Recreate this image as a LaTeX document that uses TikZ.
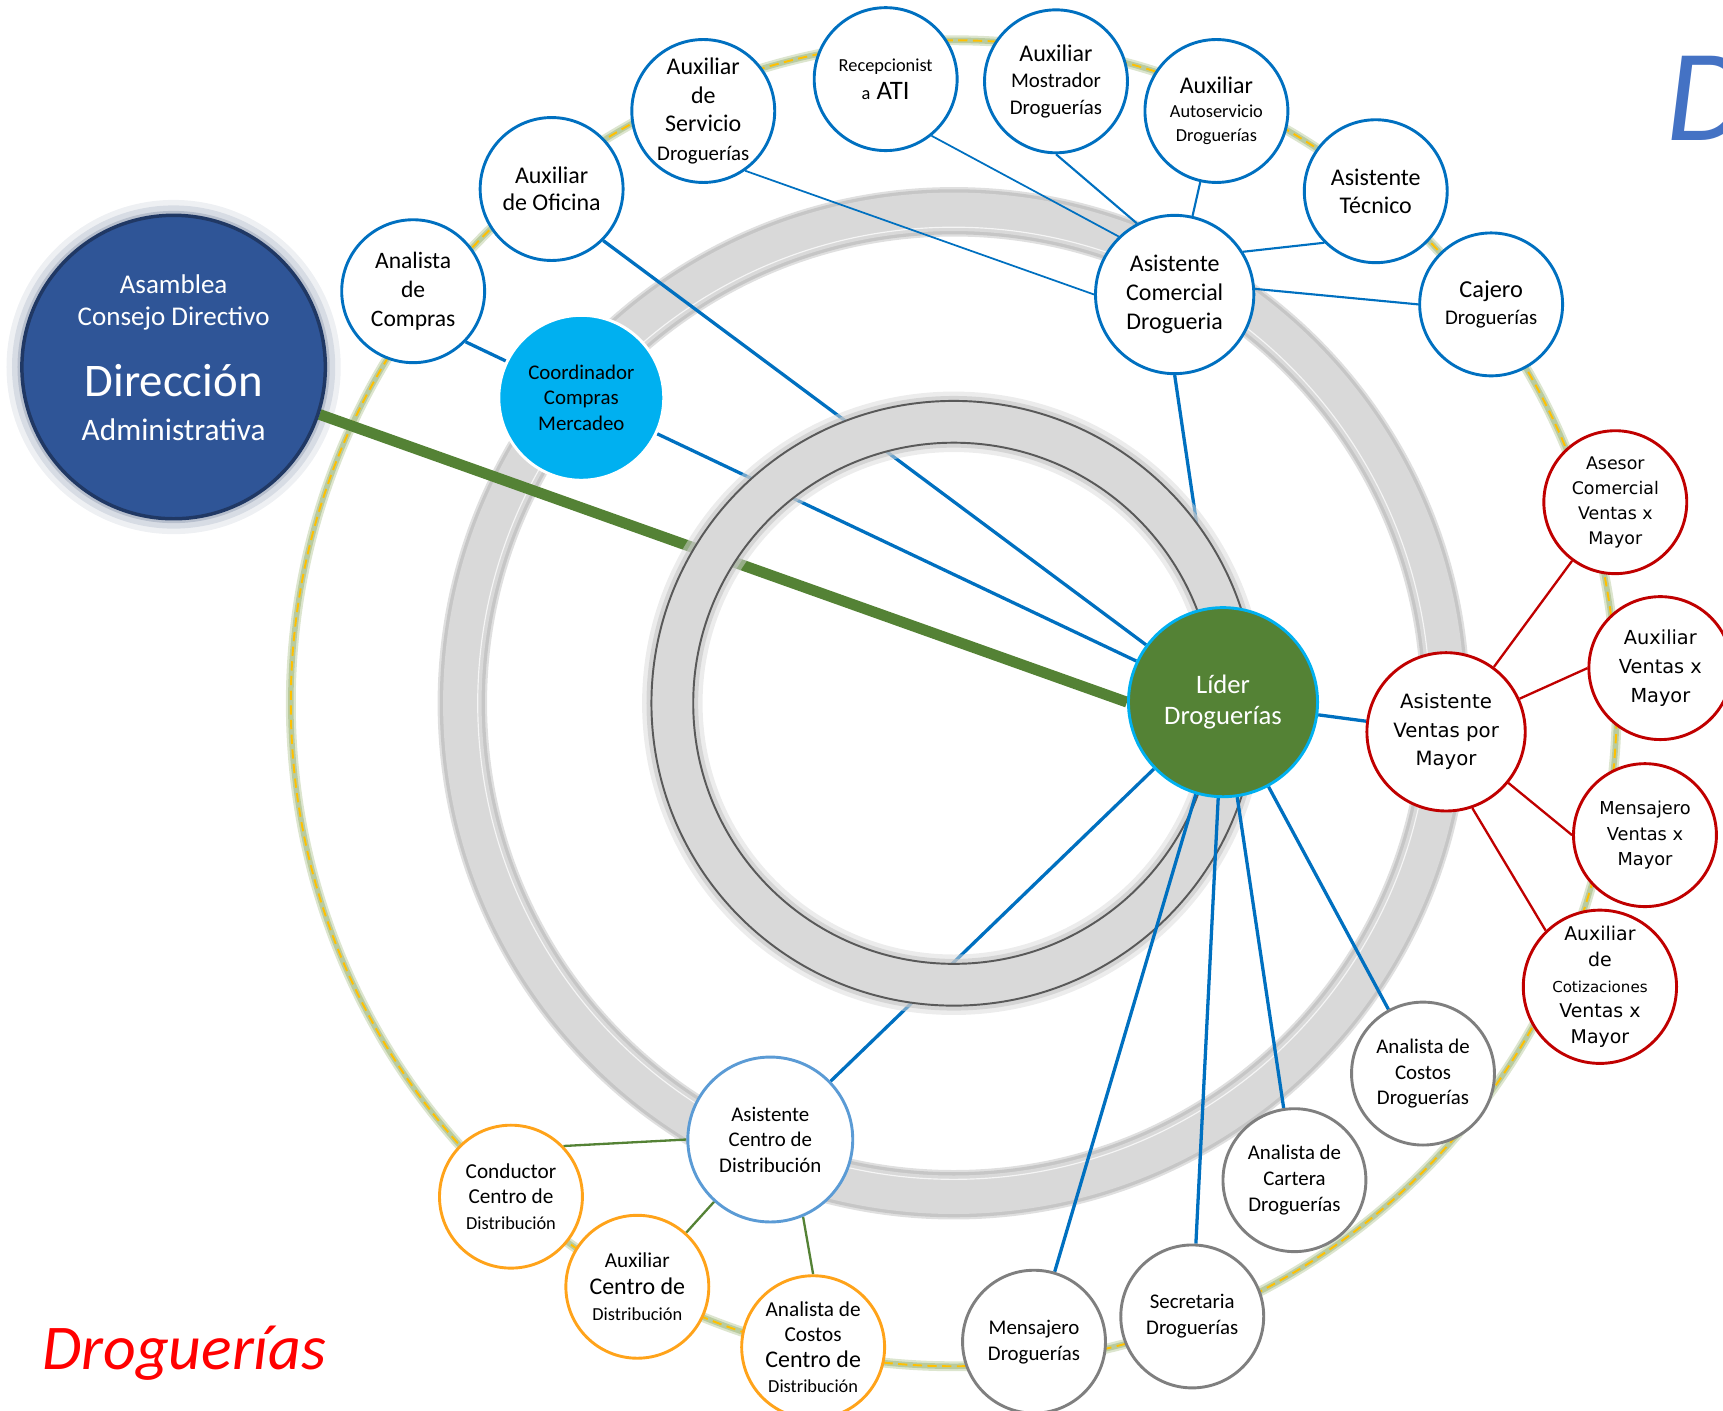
\documentclass[tikz,border=0pt]{standalone}
\usepackage{fontspec}
\setmainfont{Carlito}
\newfontfamily\verdfont{DejaVu Sans}
\usetikzlibrary{positioning}

\definecolor{azul}{HTML}{0070C0}
\definecolor{rojo}{HTML}{C00000}
\definecolor{gris}{HTML}{7F7F7F}
\definecolor{naranja}{HTML}{FFA31A}
\definecolor{verde}{HTML}{548235}
\definecolor{celeste}{HTML}{00B0F0}
\definecolor{azulclaro}{HTML}{5B9BD5}
\definecolor{azuloscuro}{HTML}{2F5597}
\definecolor{marino}{HTML}{203864}
\definecolor{anillo}{HTML}{D9D9D9}
\definecolor{borde}{HTML}{595959}
\definecolor{oliva}{HTML}{B9CB9E}
\definecolor{amarillo}{HTML}{FFC000}
\definecolor{letraD}{HTML}{4472C4}

\newcommand{\tamchico}{\fontsize{5.4}{6.6}\selectfont}
\newcommand{\tammini}{\fontsize{4.75}{6}\selectfont}

\pgfdeclarelayer{fondo}
\pgfdeclarelayer{medio}
\pgfsetlayers{fondo,medio,main}

\tikzset{
  puesto/.style={circle, fill=white, line width=0.75pt, minimum size=1.3cm, inner sep=0pt, align=center},
  azulnodo/.style={puesto, draw=azul, font=\fontsize{6.2}{7.4}\selectfont},
  rojonodo/.style={puesto, draw=rojo, font=\verdfont\fontsize{4.8}{6.6}\selectfont},
  grisnodo/.style={puesto, draw=gris, font=\fontsize{5.4}{6.7}\selectfont},
  naranjanodo/.style={puesto, draw=naranja, font=\fontsize{5.5}{6.6}\selectfont},
  linea/.style={azul, line width=0.85pt},
  lineafina/.style={azul, line width=0.55pt},
  linearoja/.style={rojo, line width=0.6pt},
  lineaverde/.style={verde, line width=0.6pt}
}

\begin{document}
\begin{tikzpicture}[x=0.01cm, y=-0.01cm]
\useasboundingbox (0,0) rectangle (1568,1284);

\node[puesto, fill=azuloscuro, draw=marino, line width=0.9pt, minimum size=2.76cm] (dir) at (158,334) {};
\node[anchor=base, text=white, font=\fontsize{7}{8}\selectfont] at ([yshift=0.67cm]dir.center) {Asamblea};
\node[anchor=base, text=white, font=\fontsize{7}{8}\selectfont] at ([yshift=0.375cm]dir.center) {Consejo Directivo};
\node[anchor=base, text=white, font=\fontsize{12.1}{14}\selectfont] at ([yshift=-0.265cm]dir.center) {Dirección};
\node[anchor=base, text=white, font=\fontsize{8.1}{9}\selectfont] at ([yshift=-0.665cm]dir.center) {Administrativa};

\node[azulnodo, font=\fontsize{6.1}{7.5}\selectfont] (analista) at (376,265) {Analista\\de\\Compras};
\node[azulnodo, font=\fontsize{6.2}{7.1}\selectfont] (oficina) at (502,172) {Auxiliar\\de Oficina};
\node[azulnodo] (servicio) at (640,101) {Auxiliar\\de\\Servicio\\{\tamchico Droguerías}};
\node[azulnodo, font=\fontsize{6.9}{7.1}\selectfont] (recep) at (806,72) {{\tammini Recepcionist}\\{\tammini a} ATI};
\node[azulnodo, font=\fontsize{6.2}{6.8}\selectfont] (mostrador) at (961,74) {Auxiliar\\{\tamchico Mostrador}\\{\tamchico Droguerías}};
\node[azulnodo, font=\fontsize{6.2}{6.2}\selectfont] (autoserv) at (1107,101) {Auxiliar\\{\tammini Autoservicio}\\{\tammini Droguerías}};
\node[azulnodo] (tecnico) at (1252,174) {Asistente\\Técnico};
\node[azulnodo, font=\fontsize{6.3}{6.8}\selectfont] (cajero) at (1357,277) {Cajero\\{\tamchico Droguerías}};
\node[azulnodo, minimum size=1.44cm, font=\fontsize{6.2}{7.5}\selectfont] (comercial) at (1069,268) {Asistente\\Comercial\\Drogueria};
\node[puesto, fill=celeste, draw=white, minimum size=1.5cm, font=\fontsize{5.4}{6.7}\selectfont] (coord) at (529,362) {Coordinador\\Compras\\Mercadeo};
\node[puesto, fill=verde, draw=celeste, minimum size=1.72cm, text=white, font=\fontsize{6.9}{8.2}\selectfont] (lider) at (1113,639) {Líder\\Droguerías};

\node[rojonodo, minimum size=1.44cm, font=\verdfont\fontsize{5.1}{7.4}\selectfont] (ventas) at (1316,666) {Asistente\\Ventas por\\Mayor};
\node[rojonodo, font=\verdfont\fontsize{4.5}{6.5}\selectfont] (asesor) at (1470,457) {Asesor\\Comercial\\Ventas x\\Mayor};
\node[rojonodo, font=\verdfont\fontsize{5}{7.4}\selectfont] (auxventas) at (1511,608) {Auxiliar\\Ventas x\\Mayor};
\node[rojonodo, font=\verdfont\fontsize{4.6}{6.6}\selectfont] (mensventas) at (1497,760) {Mensajero\\Ventas x\\Mayor};
\node[rojonodo, font=\verdfont\fontsize{4.9}{6.6}\selectfont] (cotiz) at (1456,898) {Auxiliar\\de\\{\fontsize{3.9}{5}\selectfont Cotizaciones}\\Ventas x\\Mayor};

\node[grisnodo] (costos) at (1295,977) {Analista de\\Costos\\Droguerías};
\node[grisnodo] (cartera) at (1178,1074) {Analista de\\Cartera\\Droguerías};
\node[grisnodo] (secre) at (1085,1198) {Secretaria\\Droguerías};
\node[grisnodo] (mensajero) at (941,1221) {Mensajero\\Droguerías};

\node[puesto, draw=azulclaro, minimum size=1.5cm, font=\fontsize{5.4}{6.6}\selectfont] (centro) at (701,1037) {Asistente\\Centro de\\Distribución};
\node[naranjanodo] (conductor) at (465,1089) {Conductor\\Centro de\\{\tammini Distribución}};
\node[naranjanodo, font=\fontsize{5.5}{6.8}\selectfont] (auxcentro) at (580,1171) {Auxiliar\\{\fontsize{6.2}{7}\selectfont Centro de}\\{\tammini Distribución}};
\node[naranjanodo] (costoscentro) at (740,1226) {Analista de\\Costos\\{\fontsize{6.2}{7}\selectfont Centro de}\\{\tammini Distribución}};

\node[anchor=base west, text=red, font=\fontsize{16.5}{20}\selectfont\itshape] (titulo) at (26,1246) {Droguerías};
\node[anchor=base west, text=letraD, font=\fontsize{34}{40}\selectfont\itshape] (letra) at (1504,128) {D};

\begin{pgfonlayer}{fondo}
\fill[azuloscuro!50!gray, opacity=0.10] (dir.center) circle (1.52cm);
\fill[azuloscuro!50!gray, opacity=0.15] (dir.center) circle (1.47cm);
\fill[azuloscuro!50!gray, opacity=0.25] (dir.center) circle (1.42cm);
\draw[line width=0.45cm, gray!25] (868,640) circle (4.47cm);
\draw[line width=0.41cm, gray!45] (868,640) circle (4.47cm);
\draw[line width=0.35cm, anillo] (868,640) circle (4.47cm);
\draw[line width=0.3pt, gray!8] (868,640) circle (4.33cm);
\draw[line width=0.09cm, oliva, opacity=0.5] (868,640) circle (6.03cm);
\draw[line width=0.05cm, oliva] (868,640) circle (6.03cm);
\draw[line width=0.5pt, amarillo, dash pattern=on 2.4pt off 1.4pt] (868,640) circle (6.03cm);
\draw[verde, line width=2.8pt] (dir.-18) -- (lider.west);
\draw[linea] (coord) -- (lider);
\draw[linea] (oficina.-45) -- (lider);
\draw[linea] (comercial.south) -- (lider);
\draw[linea] (lider) -- (centro);
\end{pgfonlayer}

\begin{pgfonlayer}{medio}
\draw[line width=0.55cm, gray!30, opacity=0.5] (868,640) circle (2.56cm);
\draw[line width=0.47cm, gray!45, opacity=0.6] (868,640) circle (2.56cm);
\draw[line width=0.38cm, anillo] (868,640) circle (2.56cm);
\draw[borde, line width=0.5pt] (868,640) circle (2.75cm);
\draw[borde, line width=0.5pt] (868,640) circle (2.37cm);
\draw[linea] (analista.-44) -- (coord.154);
\draw[lineafina, line width=0.45pt] (servicio.-55) -- (comercial.west);
\draw[lineafina, line width=0.45pt] (recep.-51) -- (comercial.134);
\draw[lineafina] (mostrador.south) -- (comercial.118);
\draw[lineafina] (autoserv) -- (comercial);
\draw[lineafina] (tecnico.225) -- (comercial.32);
\draw[lineafina] (cajero.west) -- (comercial.4);
\draw[linea] (lider) -- (ventas);
\draw[linea] (lider) -- (costos);
\draw[linea] (lider) -- (cartera);
\draw[linea] (lider) -- (secre);
\draw[linea] (lider) -- (mensajero);
\draw[linearoja] (ventas) -- (asesor);
\draw[linearoja] (ventas) -- (auxventas.west);
\draw[linearoja] (ventas) -- (mensventas.west);
\draw[linearoja] (ventas.-71) -- (cotiz.134);
\draw[lineaverde] (centro.west) -- (conductor.44);
\draw[lineaverde] (centro) -- (auxcentro);
\draw[lineaverde] (centro.-67) -- (costoscentro.north);
\end{pgfonlayer}
\end{tikzpicture}
\end{document}
